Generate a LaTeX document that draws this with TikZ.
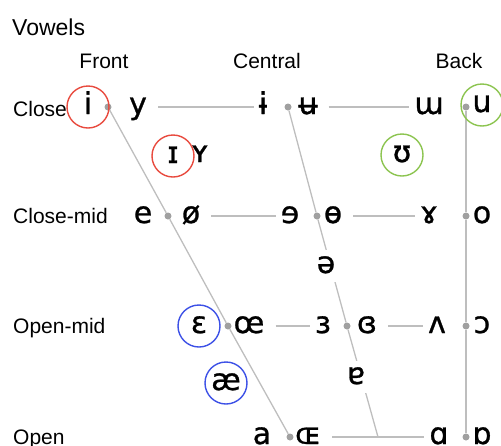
\documentclass[tikz,border=0pt]{standalone}
\usepackage{fontspec}
\setmainfont{Liberation Sans}
\newfontfamily\ipafont[FakeBold=0.9]{DejaVu Sans}
\usetikzlibrary{backgrounds}
\definecolor{linegray}{RGB}{190,190,190}
\definecolor{dotgray}{RGB}{160,160,160}
\definecolor{ringred}{RGB}{232,74,62}
\definecolor{ringgreen}{RGB}{140,196,80}
\definecolor{ringblue}{RGB}{60,80,230}
\tikzset{
  sym/.style={font=\ipafont\fontsize{30}{34}\selectfont, text height=20pt, text depth=6pt, inner xsep=2pt, inner ysep=3pt},
  ring/.style={sym, circle, draw=#1, line width=1.4pt, minimum size=42pt, inner sep=0pt},
  midsym/.style={sym, fill=white},
  dot/.style={circle, fill=dotgray, inner sep=0pt, minimum size=7pt},
  chart/.style={draw=linegray, line width=1.3pt},
  link/.style={chart, shorten <=9pt, shorten >=3pt},
  lbl/.style={font=\fontsize{21}{25}\selectfont, anchor=base west, inner sep=0pt},
  head/.style={font=\fontsize{21}{25}\selectfont, anchor=base, inner sep=0pt},
}
\begin{document}
\begin{tikzpicture}[x=1pt, y=-1pt]
    \useasboundingbox (0,0) rectangle (501,445);
    \node[font=\fontsize{23}{27}\selectfont, anchor=base west, inner sep=0pt] (title) at (12,35) {Vowels};
    \foreach \n/\t/\x in {front/Front/104, central/Central/267, back/Back/459}
        \node[head] (\n) at (\x,68) {\t};
    \foreach \n/\t/\y in {close/Close/116, closemid/Close-mid/223, openmid/Open-mid/333, open/Open/444}
        \node[lbl] (\n) at (13,\y) {\t};
    % points of the chart
    \foreach \n/\x/\y in {CF/108/107, CC/288/107, CB/466/107, CmF/168/216, CmC/317/216, CmB/466/216,
                          OmF/228/326, OmC/347/326, OmB/466/326, OF/290/437, OB/466/437}
        \node[dot] (d\n) at (\x,\y) {};
    \coordinate (oC) at (378,437);
    % vowels
    \foreach \n/\s/\x/\y in {y/y/138/107, ibar/ɨ/263/107, ubar/ʉ/308/107, turnm/ɯ/429/107,
                             e/e/143/216, oslash/ø/191/216, reve/ɘ/290/216, baro/ɵ/333/216, ramshorn/ɤ/429/216, o/o/482/216,
                             oe/œ/249/326, reveps/ɜ/323/326, creveps/ɞ/367/326, turnv/ʌ/437/326, openo/ɔ/482/326,
                             a/a/262/437, OE/ɶ/308/437, alpha/ɑ/439/437, turnalpha/ɒ/482/437, smallY/ʏ/200/155}
        \node[sym] (\n) at (\x,\y) {\s};
    \node[ring=ringred] (i) at (88,107) {i};
    \node[ring=ringred] (smallI) at (173,156) {ɪ};
    \node[ring=ringgreen] (u) at (482,105) {u};
    \node[ring=ringgreen] (upsilon) at (402,155) {ʊ};
    \node[ring=ringblue] (eps) at (199,326) {ɛ};
    \node[ring=ringblue] (ae) at (226,383) {æ};
    \node[midsym] (schwa) at (326,266) {ə};
    \node[midsym] (turna) at (356,377) {ɐ};
    \begin{scope}[on background layer]
        \draw[chart] (dCF) -- (dCmF) -- (dOmF) -- (dOF);
        \draw[chart] (dCC) -- (dCmC) -- (dOmC) -- (oC);
        \draw[chart] (dCB) -- (dCmB) -- (dOmB) -- (dOB);
        \draw[link] (y) -- (ibar);
        \draw[link] (ubar) -- (turnm);
        \draw[link] (oslash) -- (reve);
        \draw[link] (baro) -- (ramshorn);
        \draw[link] (oe) -- (reveps);
        \draw[link] (creveps) -- (turnv);
        \draw[link] (OE) -- (alpha);
    \end{scope}
\end{tikzpicture}
\end{document}
